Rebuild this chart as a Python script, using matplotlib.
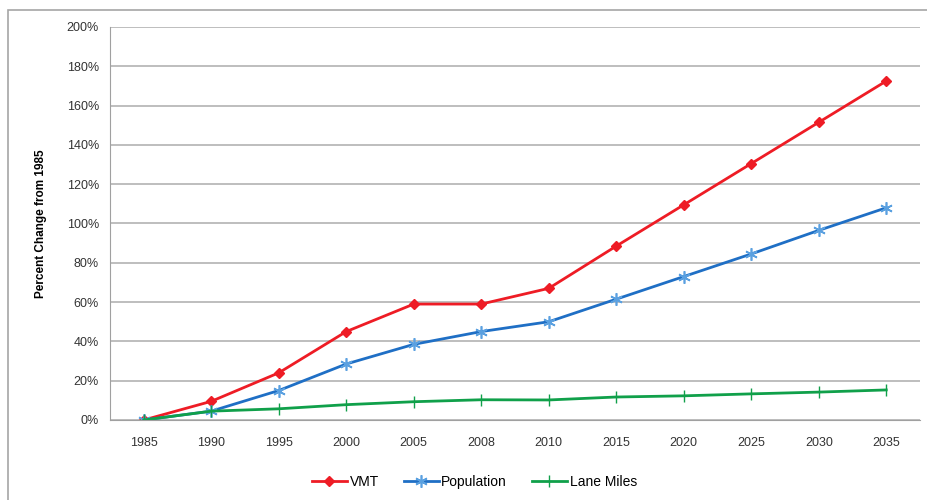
import matplotlib.pyplot as plt
import numpy as np
from matplotlib.patches import Rectangle

years = ["1985", "1990", "1995", "2000", "2005", "2008", "2010", "2015", "2020", "2025", "2030", "2035"]
vmt = [0, 9.5, 24, 45, 59, 59, 67, 88.5, 109.5, 130.5, 151.5, 172.5]
population = [0, 4.5, 15, 28.5, 38.5, 45, 50, 61.5, 73, 84.5, 96.5, 108]
lane_miles = [0, 4.5, 5.7, 7.8, 9.3, 10.3, 10.2, 11.7, 12.3, 13.3, 14.2, 15.3]

plt.rcParams['font.family'] = ['Liberation Sans', 'DejaVu Sans']

fig = plt.figure(figsize=(9.27, 5.0), dpi=100)
# outer chart frame
fig.patches.append(Rectangle((8/927, -0.05), 1.1, (490/500) + 0.05, transform=fig.transFigure,
                             fill=False, edgecolor='#a6a6a6', linewidth=1.2))

ax = fig.add_axes([110/927, 80/500, 810/927, 393/500])
x = np.arange(len(years))

ax.plot(x, vmt, color='#ee1c25', marker='D', markersize=5, linewidth=2, label='VMT')
ax.plot(x, population, color='#1f6fc5', marker=(6, 2, 0), markersize=9, markeredgecolor='#5aa0e0',
        markeredgewidth=1.2, linewidth=2, label='Population')
ax.plot(x, lane_miles, color='#10a04a', marker='|', markersize=8, linewidth=2, label='Lane Miles')

ax.set_xlim(-0.5, len(years) - 0.5)
ax.set_ylim(0, 200)
ax.set_yticks(np.arange(0, 201, 20))
ax.set_yticklabels([f"{v}%" for v in range(0, 201, 20)], fontsize=9, color='#333333')
ax.set_xticks(x)
ax.set_xticklabels(years, fontsize=9, color='#333333')
ax.tick_params(axis='both', length=0, pad=8)
ax.tick_params(axis='x', pad=12)

ax.grid(axis='y', color='#b3b3b3', linewidth=1.2)
ax.set_axisbelow(True)
for s in ['top', 'right']:
    ax.spines[s].set_visible(False)
ax.spines['left'].set_color('#a0a0a0')
ax.spines['bottom'].set_color('#a0a0a0')

ax.set_ylabel("Percent Change from 1985", fontsize=8.5, fontweight='bold', labelpad=14)

ax.legend(loc='center', bbox_to_anchor=(0.45, -0.158), ncol=3, frameon=False,
          fontsize=10, handlelength=2.5, columnspacing=1.8, handletextpad=0.2)

fig.savefig("out.png", dpi=100)
